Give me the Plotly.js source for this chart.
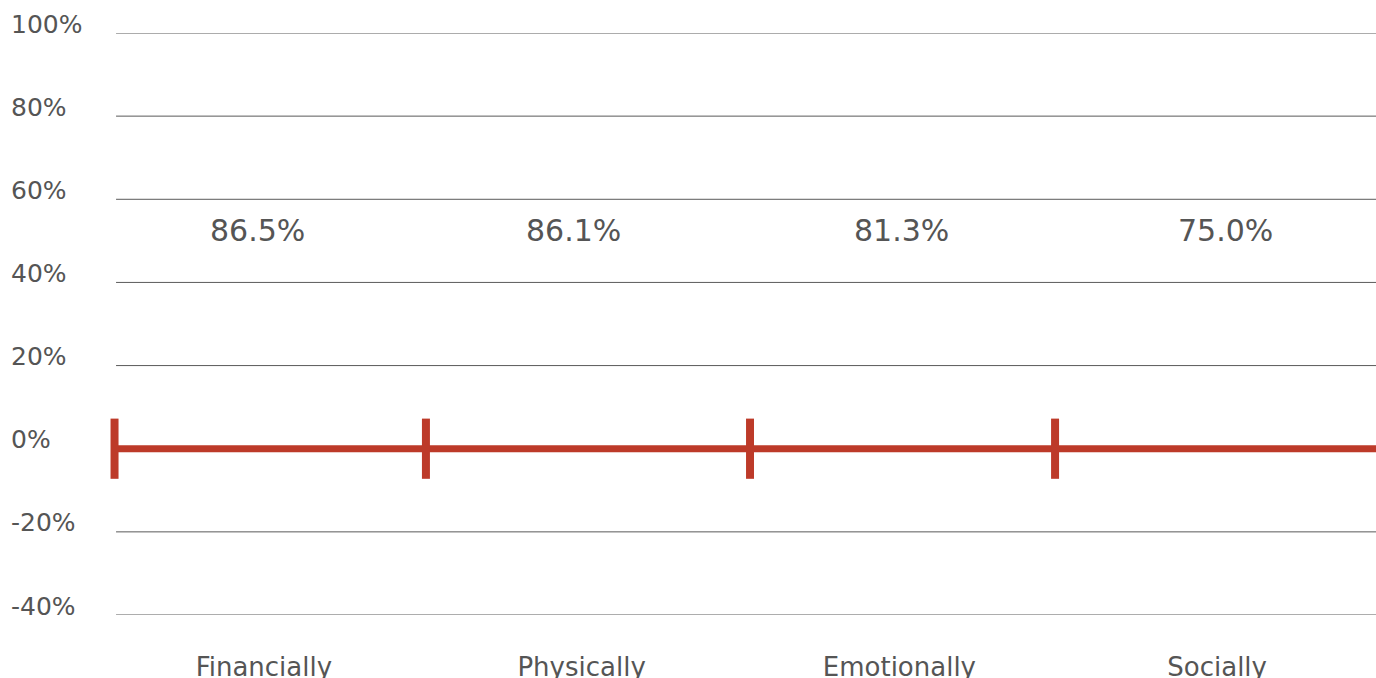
<!DOCTYPE html>
<html>
<head>
<meta charset="utf-8">
<script src="https://cdn.plot.ly/plotly-3.0.1.min.js"></script>
<style>
  html, body { margin: 0; padding: 0; background: #ffffff; }
  #chart { width: 1376px; height: 678px; }
</style>
</head>
<body>
<div id="chart"></div>
<script>
// Categories and the share reported for each
const categories = ['Financially', 'Physically', 'Emotionally', 'Socially'];
const shares = [86.5, 86.1, 81.3, 75.0];

// Value axis ticks
const yTickValues = [100, 80, 60, 40, 20, 0, -20, -40];
const yTickLabels = ['100%', '80%', '60%', '40%', '20%', '0%', '-20%', '-40%'];

// Baseline series: positions of the divider marks along the zero line
const baselineX = [-0.47, 0.51, 1.53, 2.49, 3.5];
const baselineY = [0, 0, 0, 0, 0];

// Height at which the share labels sit
const labelLevel = 52.5;

const red = '#bd3a29';
const ink = '#555555';
const font = 'DejaVu Sans, Noto Sans, sans-serif';

// Small horizontal nudges (px) for the share labels
const shareLabelNudge = [-6, -8, 2, 8];

const baseline = {
  type: 'scatter',
  mode: 'lines+markers',
  x: baselineX,
  y: baselineY,
  line: { color: red, width: 7 },
  marker: {
    symbol: 'line-ns',
    size: baselineX.map((_, i) => (i < baselineX.length - 1 ? 43 : 0)),
    color: red,
    opacity: 1,
    line: { color: red, width: 8 }
  },
  opacity: 1,
  hoverinfo: 'skip',
  cliponaxis: false
};

// Horizontal grid lines, starting slightly right of the plot edge
const gridShapes = yTickValues.map(v => ({
  type: 'line',
  xref: 'paper', yref: 'y',
  x0: 0.0087, x1: 1, y0: v, y1: v,
  line: { color: '#5a5a5a', width: 1 },
  layer: 'below'
}));

// Left-aligned value axis labels sitting just above their grid line
const yLabelAnnotations = yTickValues.map((v, i) => ({
  xref: 'paper', yref: 'y',
  x: 0, y: v,
  xanchor: 'left', yanchor: 'middle',
  xshift: -96, yshift: 9,
  text: yTickLabels[i],
  showarrow: false,
  font: { family: font, size: 25, color: ink }
}));

// Share labels above each category
const shareAnnotations = shares.map((v, i) => ({
  xref: 'x', yref: 'y',
  x: i, y: labelLevel,
  xanchor: 'center', yanchor: 'middle',
  xshift: shareLabelNudge[i],
  text: v.toFixed(1) + '%',
  showarrow: false,
  font: { family: font, size: 30, color: ink }
}));

const layout = {
  width: 1376,
  height: 678,
  margin: { l: 105, r: 0, t: 33, b: 63 },
  paper_bgcolor: '#ffffff',
  plot_bgcolor: '#ffffff',
  showlegend: false,
  xaxis: {
    type: 'linear',
    range: [-0.5, 3.5],
    tickvals: categories.map((_, i) => i),
    ticktext: categories,
    showgrid: false,
    zeroline: false,
    showline: false,
    ticks: '',
    ticklabelstandoff: 34,
    tickfont: { family: font, size: 26, color: ink },
    fixedrange: true
  },
  yaxis: {
    range: [-40, 100],
    showgrid: false,
    zeroline: false,
    showline: false,
    showticklabels: false,
    ticks: '',
    fixedrange: true
  },
  shapes: gridShapes,
  annotations: yLabelAnnotations.concat(shareAnnotations)
};

Plotly.newPlot('chart', [baseline], layout, { displayModeBar: false, staticPlot: true });
</script>
</body>
</html>
